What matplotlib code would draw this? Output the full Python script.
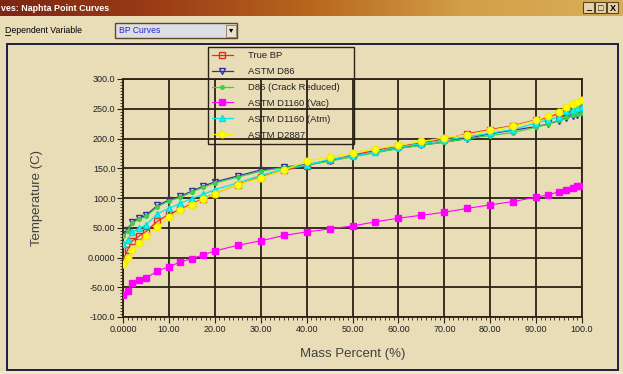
import matplotlib
matplotlib.use("Agg")
import numpy as np
import matplotlib.pyplot as plt
from matplotlib.patches import Rectangle
from matplotlib.colors import LinearSegmentedColormap
from matplotlib.ticker import MultipleLocator, FixedLocator, FixedFormatter

plt.rcParams["font.family"] = ["Liberation Sans", "DejaVu Sans"]

# mass percent points (same for all curves)
mass_pct = [0, 1, 2, 3.5, 5, 7.5, 10, 12.5, 15, 17.5, 20, 25, 30, 35, 40, 45,
            50, 55, 60, 65, 70, 75, 80, 85, 90, 92.5, 95, 96.5, 98, 99, 100]

true_bp = [-4, 12.5, 28, 36, 43.5, 61, 72.5, 81, 90.5, 99, 107.5, 122.5, 135.5,
           146.5, 154.5, 163.5, 172, 180, 187, 192.5, 199, 208, 215, 221.5,
           231.5, 234.5, 243, 248, 252, 254, 256]
astm_d86 = [39, 47, 60, 66, 71, 87.5, 96.5, 103, 111.5, 120, 127, 137, 147, 152,
            156, 163, 170, 177, 184, 189, 194, 200, 208, 214, 220, 224, 230,
            235, 238, 240, 241]
d86_crack = [36, 45, 58, 64, 69, 85, 95, 101, 110, 118, 125, 135, 145, 151, 155,
             162, 169, 176, 183, 188.5, 194, 199.5, 205, 210, 219, 224, 231,
             236, 239, 241, 243]
d1160_vac = [-63, -57, -43, -38.5, -35, -22.5, -15.5, -7.5, -2, 4.5, 11, 20.5,
             28, 37, 43, 48, 53, 60, 66, 71, 76, 82.5, 88.5, 94, 101.5, 105,
             110.5, 114, 117, 120, 121]
d1160_atm = [22, 29.5, 43, 49, 54.5, 73.5, 82.5, 91, 99, 106, 114, 125.5, 138,
             149, 155, 165, 170, 177.5, 186, 191, 197, 203, 209, 215, 226,
             231.5, 236, 245.5, 248, 251, 253]
d2887 = [-11, 0, 12.5, 25, 36, 51, 68, 79, 89, 97.5, 107.5, 122.5, 134, 146.5,
         162, 169, 176, 183, 188.5, 195, 201, 206.5, 213.5, 220.5, 230.5, 238,
         244.5, 253, 258.5, 262, 265.5]

xtick_vals = [0, 10, 20, 30, 40, 50, 60, 70, 80, 90, 100]
xtick_labels = ["0.0000", "10.00", "20.00", "30.00", "40.00", "50.00",
                "60.00", "70.00", "80.00", "90.00", "100.0"]
ytick_vals = [-100, -50, 0, 50, 100, 150, 200, 250, 300]
ytick_labels = ["-100.0", "-50.00", "0.0000", "50.00", "100.0", "150.0",
                "200.0", "250.0", "300.0"]

W, H = 623, 374
BG = "#e9ddb8"
GRID = "#2a2212"

fig = plt.figure(figsize=(W / 100, H / 100), dpi=100, facecolor=BG)

# window chrome drawn in pixel coordinates
ui = fig.add_axes([0, 0, 1, 1], zorder=0)
ui.set_xlim(0, W)
ui.set_ylim(H, 0)
ui.axis("off")

title_cmap = LinearSegmentedColormap.from_list(
    "tb", ["#7c2612", "#9a3c16", "#b8661e", "#d3a048", "#d8ae58"])
ui.imshow(np.linspace(0, 1, 256)[None, :], cmap=title_cmap, aspect="auto",
          extent=[0, W, 16, 0], zorder=1)
ui.text(1, 8.5, "ves: Naphta Point Curves", color="white", fontsize=6.4,
        fontweight="bold", va="center", ha="left", zorder=2)
for bx, glyph in [(583, "_"), (595, "□"), (607, "X")]:
    ui.add_patch(Rectangle((bx, 2), 11, 11, facecolor="#e6d4a8",
                           edgecolor="#5a4620", lw=0.8, zorder=2))
    ui.text(bx + 5.5, 8, glyph, fontsize=6.5, fontweight="bold",
            ha="center", va="center", color="black", zorder=3)

ui.text(5, 30.5, "Dependent Variable", fontsize=6.3, va="center", ha="left",
        color="black")
ui.plot([5, 10], [35, 35], color="black", lw=0.6)
ui.add_patch(Rectangle((115, 23), 122, 15, facecolor="#dddde6",
                       edgecolor="#5a4a28", lw=1.0, zorder=2))
ui.text(119, 30.5, "BP Curves", fontsize=6.2, color="#2828c8",
        va="center", ha="left", zorder=3)
ui.add_patch(Rectangle((226, 24.5), 10, 12, facecolor="#e8e2d0",
                       edgecolor="#8a7a58", lw=0.6, zorder=3))
ui.text(231, 30.5, "▾", fontsize=6, ha="center", va="center", zorder=4)

ui.add_patch(Rectangle((6.5, 44), 611, 326, facecolor=BG,
                       edgecolor="#1e1e40", lw=1.4, zorder=1))
ui.add_patch(Rectangle((0, 371), W, 3, facecolor="#efe7cf", edgecolor="none",
                       zorder=1))

# chart area
ax = fig.add_axes([123 / W, 1 - 317 / H, 459 / W, 238 / H], zorder=2)
ax.set_facecolor("none")

ax.plot(mass_pct, true_bp, color="#e0301c", lw=0.9, marker="s", ms=4.6,
        mfc="none", mec="#e0301c", mew=1.0, label="True BP", zorder=3)
ax.plot(mass_pct, astm_d86, color="#3030a8", lw=0.9, marker="v", ms=5,
        mfc="none", mec="#3030a8", mew=1.0, label="ASTM D86", zorder=4)
ax.plot(mass_pct, d86_crack, color="#40d040", lw=0.9, marker="o", ms=2.6,
        mfc="#40d040", mec="#40d040", label="D86 (Crack Reduced)", zorder=4)
ax.plot(mass_pct, d1160_vac, color="#ff00ff", lw=0.8, marker="s", ms=5,
        mfc="#ff00ff", mec="#ff00ff", label="ASTM D1160 (Vac)", zorder=3)
ax.plot(mass_pct, d1160_atm, color="#00e8e8", lw=0.9, marker="^", ms=4.8,
        mfc="#00ffff", mec="#00e0e0", label="ASTM D1160 (Atm)", zorder=4)
ax.plot(mass_pct, d2887, color="#f0f000", lw=0.9, marker="o", ms=4.8,
        mfc="#ffff00", mec="#f0f000", label="ASTM D2887", zorder=5)

ax.set_xlim(0, 100)
ax.set_ylim(-100, 300)
ax.xaxis.set_major_locator(FixedLocator(xtick_vals))
ax.xaxis.set_major_formatter(FixedFormatter(xtick_labels))
ax.yaxis.set_major_locator(FixedLocator(ytick_vals))
ax.yaxis.set_major_formatter(FixedFormatter(ytick_labels))
ax.xaxis.set_minor_locator(MultipleLocator(1))
ax.yaxis.set_minor_locator(MultipleLocator(5))
ax.tick_params(which="major", direction="out", length=4, width=0.8,
               color=GRID, labelsize=6.5, labelcolor="#202020", pad=1.5)
ax.tick_params(which="minor", direction="out", length=2, width=0.6, color=GRID)
ax.grid(True, which="major", color=GRID, lw=1.3)
for s in ax.spines.values():
    s.set_color(GRID)
    s.set_linewidth(1.3)

ax.set_xlabel("Mass Percent (%)", fontsize=9.5, color="#404040", labelpad=10)
ax.set_ylabel("Temperature (C)", fontsize=9.5, color="#404040", labelpad=32)

# legend: box drawn separately so its width matches the original
leg = ax.legend(loc="upper left", bbox_to_anchor=(209 / W, 1 - 48 / H),
                bbox_transform=fig.transFigure, fontsize=6.8, frameon=False,
                handlelength=2.2, handletextpad=1.6, labelspacing=0.74,
                borderpad=0.3, borderaxespad=0)
for t in leg.get_texts():
    t.set_color("#202020")
ui.add_patch(Rectangle((208, 47), 146, 97, facecolor="none", edgecolor=GRID,
                       lw=1.0, zorder=5))

fig.savefig("out.png", dpi=100, facecolor=BG)
